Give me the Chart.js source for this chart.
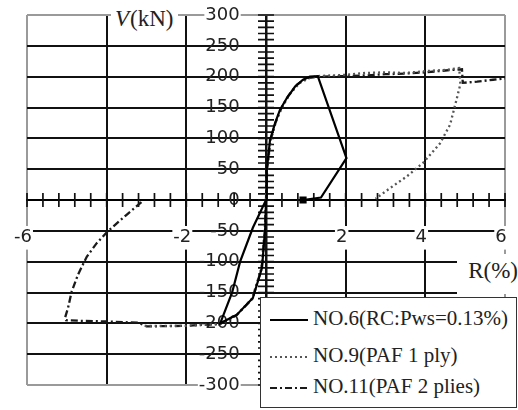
<!DOCTYPE html>
<html>
<head>
<meta charset="utf-8">
<script src="https://cdn.jsdelivr.net/npm/chart.js@4.4.0/dist/chart.umd.min.js"></script>
<style>
  body { margin: 0; background: #fff; }
  #wrap { position: relative; width: 518px; height: 410px; }
  .tag { position: absolute; font-family: 'Liberation Serif', 'Times New Roman', serif; color: #222; background: #fff; white-space: nowrap; }
  #vTitle { left: 111px; top: 6px; font-size: 23px; line-height: 26px; padding: 0 4px; }
  #vTitle i { margin-right: 1px; }
  #rTitle { left: 457px; top: 254px; width: 61px; height: 40px; font-size: 23px; line-height: 34px; text-align: right; }
  #legend { position: absolute; left: 260px; top: 297px; width: 255px; height: 109px; border: 1.5px solid #333; background: #fff; }
  #legend .row { position: absolute; left: 8px; height: 24px; line-height: 24px; font-family: 'Liberation Serif', 'Times New Roman', serif; font-size: 21px; color: #222; white-space: nowrap; }
  #legend svg { vertical-align: middle; margin-right: 4px; }
</style>
</head>
<body>
<div id="wrap">
  <canvas id="loopChart" width="518" height="410"></canvas>
  <div class="tag" id="vTitle"><i>V</i>(kN)</div>
  <div class="tag" id="rTitle">R(%)</div>
  <div id="legend"></div>
</div>
<script>
// Series names
const seriesNames = ['NO.6(RC:Pws=0.13%)', 'NO.9(PAF 1 ply)', 'NO.11(PAF 2 plies)'];

// NO.6: push to -R and back, then push to +R with unloading
const no6R = [0, -0.02, -0.1, -0.33, -0.73, -1.15, -0.85, -0.65, -0.33, 0, 0.02, 0.1, 0.23, 0.35, 0.52, 0.73, 0.93, 1.1, 1.3, 2.02, 1.38, 0.93];
const no6V = [0, -45, -110, -159, -186, -200, -150, -100, -45, 0, 49, 97, 125, 146, 165, 184, 195, 200, 201, 68, 4, 0];

// NO.9: positive branch with unloading, negative branch
const no9PosR = [0, 0.03, 0.12, 0.25, 0.4, 0.6, 0.85, 1.1, 1.3, 2.0, 2.5, 3.0, 3.5, 4.0, 4.5, 4.85, 4.88, 4.78, 4.62, 4.37, 3.94, 3.53, 3.11, 2.75];
const no9PosV = [0, 50, 98, 127, 150, 172, 190, 198, 201, 203, 206, 207, 206, 209, 211, 214, 188, 162, 122, 92, 60, 38, 19, 2];
const no9NegR = [0, -0.03, -0.12, -0.35, -0.75, -1.15, -2.0, -3.1];
const no9NegV = [0, -48, -112, -160, -187, -201, -204, -204];

// NO.11: positive branch out to 6%, negative branch with unloading
const no11PosR = [0, 0.02, 0.11, 0.24, 0.37, 0.55, 0.78, 1.0, 1.3, 2.0, 2.5, 3.0, 3.5, 4.0, 4.5, 4.92, 4.94, 5.3, 5.7, 6.0];
const no11PosV = [0, 48, 96, 126, 147, 168, 187, 197, 200, 201, 202, 204, 205, 207, 210, 212, 190, 192, 195, 197];
const no11NegR = [0, -0.02, -0.11, -0.34, -0.74, -1.15, -2.0, -3.0, -3.2, -4.0, -4.6, -5.02, -5.04, -4.97, -4.88, -4.72, -4.5, -4.25, -3.96, -3.5, -3.12];
const no11NegV = [0, -46, -111, -160, -187, -201, -204, -205, -199, -197, -196, -195, -190, -175, -149, -121, -92, -70, -50, -24, -3];

// Axis ticks
const rMin = -6, rMax = 6, rMinorStep = 0.4;
const vMin = -300, vMax = 300, vMinorStep = 10;
const rLabels = [-6, -2, 2, 4, 6];
const vMajorStep = 50;

const toPoints = (xs, ys) => xs.map((x, i) => ({ x: x, y: ys[i] }));
// joins two branches of one series without a connecting segment
const joinBranches = (a, b) => [...a, { x: a[a.length - 1].x, y: null }, ...b];

const isMultiple = (v, step) => Math.abs(v / step - Math.round(v / step)) < 1e-6;

// positioned axes should not eat into the plot area
const noFit = scale => {
  scale.paddingLeft = scale.paddingRight = scale.paddingTop = scale.paddingBottom = 0;
  if (scale.isHorizontal()) scale.height = 0; else scale.width = 0;
};

// Short tick marks crossing both axes at the origin
const crossTicks = {
  id: 'crossTicks',
  beforeDatasetsDraw(chart) {
    const { ctx, scales: { x, y } } = chart;
    const x0 = x.getPixelForValue(0);
    const y0 = y.getPixelForValue(0);
    ctx.save();
    ctx.strokeStyle = '#111';
    ctx.lineWidth = 1.7;
    ctx.beginPath();
    x.ticks.forEach(t => {
      const px = x.getPixelForValue(t.value);
      ctx.moveTo(px, y0 - 7);
      ctx.lineTo(px, y0 + 7);
    });
    y.ticks.forEach(t => {
      const py = y.getPixelForValue(t.value);
      ctx.moveTo(x0 - 8, py);
      ctx.lineTo(x0 + 8, py);
    });
    ctx.stroke();
    ctx.restore();
  }
};

const tickFont = { family: 'DejaVu Sans', size: 18 };

const chart = new Chart(document.getElementById('loopChart'), {
  type: 'line',
  data: {
    datasets: [{
      label: seriesNames[0],
      data: toPoints(no6R, no6V),
      borderColor: '#000',
      borderWidth: 2.2,
      pointRadius: ctx => ctx.dataIndex === no6R.length - 1 ? 3.5 : 0,
      pointStyle: 'rect',
      pointBackgroundColor: '#000',
      pointBorderColor: '#000'
    }, {
      label: seriesNames[1],
      data: joinBranches(toPoints(no9PosR, no9PosV), toPoints(no9NegR, no9NegV)),
      borderColor: '#555',
      borderWidth: 2.3,
      borderDash: [2, 3],
      pointRadius: 0
    }, {
      label: seriesNames[2],
      data: joinBranches(toPoints(no11PosR, no11PosV), toPoints(no11NegR, no11NegV)),
      borderColor: '#1a1a1a',
      borderWidth: 2.3,
      borderDash: [7, 3, 2, 3],
      pointRadius: 0
    }]
  },
  options: {
    responsive: false,
    animation: false,
    spanGaps: false,
    layout: { padding: { left: 27, top: 15, right: 13, bottom: 25 } },
    plugins: { legend: { display: false }, tooltip: { enabled: false } },
    scales: {
      x: {
        type: 'linear',
        min: rMin,
        max: rMax,
        position: { y: 0 },
        afterFit: noFit,
        afterBuildTicks: scale => {
          const ticks = [];
          for (let i = 0; i <= Math.round((rMax - rMin) / rMinorStep); i++) {
            ticks.push({ value: Math.round((rMin + i * rMinorStep) * 10) / 10 });
          }
          scale.ticks = ticks;
        },
        border: { display: true, color: '#000', width: 2 },
        grid: {
          drawTicks: false,
          color: ctx => {
            const v = ctx.tick.value;
            if (Math.abs(v) === rMax) return '#9a9a9a';
            return isMultiple(v, 2) ? '#111' : 'rgba(0,0,0,0)';
          },
          lineWidth: ctx => ctx.tick.value === 0 ? 2.5 : 2
        },
        ticks: {
          autoSkip: false,
          maxRotation: 0,
          padding: 27,
          labelOffset: -4,
          color: '#222',
          font: tickFont,
          showLabelBackdrop: ctx => rLabels.includes(ctx.tick.value),
          backdropColor: '#fff',
          backdropPadding: 1,
          callback: v => rLabels.includes(v) ? String(v) : ''
        }
      },
      y: {
        type: 'linear',
        min: vMin,
        max: vMax,
        // labels sit a little to the left of the R = 0 line
        position: { x: -0.66 },
        afterFit: noFit,
        afterBuildTicks: scale => {
          const ticks = [];
          for (let v = vMin; v <= vMax; v += vMinorStep) ticks.push({ value: v });
          scale.ticks = ticks;
        },
        border: { display: false },
        grid: {
          drawTicks: false,
          color: ctx => {
            const v = ctx.tick.value;
            if (Math.abs(v) === vMax) return '#9a9a9a';
            return isMultiple(v, vMajorStep) ? '#111' : 'rgba(0,0,0,0)';
          },
          lineWidth: 2
        },
        ticks: {
          autoSkip: false,
          padding: 0,
          color: '#222',
          font: tickFont,
          showLabelBackdrop: ctx => Math.abs(ctx.tick.value) === vMax,
          backdropColor: '#fff',
          backdropPadding: 1,
          callback: v => isMultiple(v, vMajorStep) ? String(v) : ''
        }
      }
    }
  },
  plugins: [crossTicks]
});

// Legend box built from the datasets
const legendBox = document.getElementById('legend');
const rowCenters = [20, 57, 88];
chart.data.datasets.forEach((ds, i) => {
  const row = document.createElement('div');
  row.className = 'row';
  row.style.top = (rowCenters[i] - 12) + 'px';
  const dash = ds.borderDash ? ds.borderDash.join(' ') : 'none';
  row.innerHTML = '<svg width="40" height="10"><line x1="1" y1="5" x2="39" y2="5" stroke="' + ds.borderColor +
    '" stroke-width="2.2" stroke-dasharray="' + dash + '"/></svg>';
  const text = document.createElement('span');
  text.textContent = ds.label;
  row.appendChild(text);
  legendBox.appendChild(row);
});
</script>
</body>
</html>
